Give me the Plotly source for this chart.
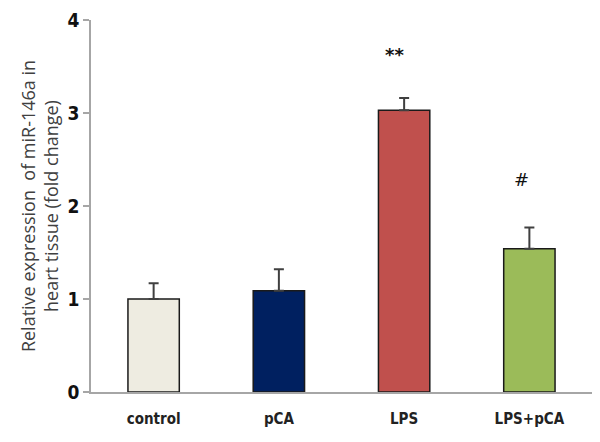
import plotly.graph_objects as go

categories = ["control", "pCA", "LPS", "LPS+pCA"]
values = [1.0, 1.09, 3.03, 1.54]
errors = [0.17, 0.23, 0.13, 0.23]
colors = ["#EEECE1", "#002060", "#C0504D", "#9BBB59"]
marks = ["", "", "**", "#"]
mark_y = [None, None, 3.63, 2.28]
y_ticks = [0, 1, 2, 3, 4]

fig = go.Figure()
fig.add_trace(go.Bar(
    x=categories, y=values,
    marker=dict(color=colors, line=dict(color="#1a1a1a", width=1.5)),
    width=0.41,
    error_y=dict(type="data", symmetric=False, array=errors,
                 arrayminus=[0]*len(errors), color="#404040",
                 thickness=2, width=5),
))

for c, m, yy in zip(categories, marks, mark_y):
    if m:
        fig.add_annotation(x=c, y=yy, text=m, showarrow=False,
                           xshift=-10 if m == "**" else -8,
                           font=dict(family="DejaVu Sans", size=18, color="#111", weight="bold" if m == "**" else "normal"))

fig.update_layout(
    width=600, height=442,
    margin=dict(l=83, r=16, t=12, b=58, autoexpand=False),
    plot_bgcolor="white", paper_bgcolor="white",
    showlegend=False,
)
fig.update_xaxes(
    range=[-0.5, 3.5], automargin=False,
    showline=True, linecolor="#A6A6A6", linewidth=1.5,
    ticks="", showgrid=False,
    tickfont=dict(family="DejaVu Sans Condensed, sans-serif", size=15, color="#222", weight="bold"),
    ticklabelstandoff=12,
)
fig.update_yaxes(
    range=[0, 4], tickvals=y_ticks, automargin=False,
    showline=True, linecolor="#A6A6A6", linewidth=1.5,
    ticks="outside", ticklen=6, tickcolor="#A6A6A6", tickwidth=1.5,
    showgrid=False, zeroline=False,
    tickfont=dict(family="DejaVu Sans Condensed, sans-serif", size=19, color="#111", weight="bold"),
    title=dict(text="Relative expression  of miR-146a in<br>heart tissue (fold change)",
               font=dict(family="Open Sans", size=18, color="#404040"), standoff=4),
)

fig.write_html("out.html")
